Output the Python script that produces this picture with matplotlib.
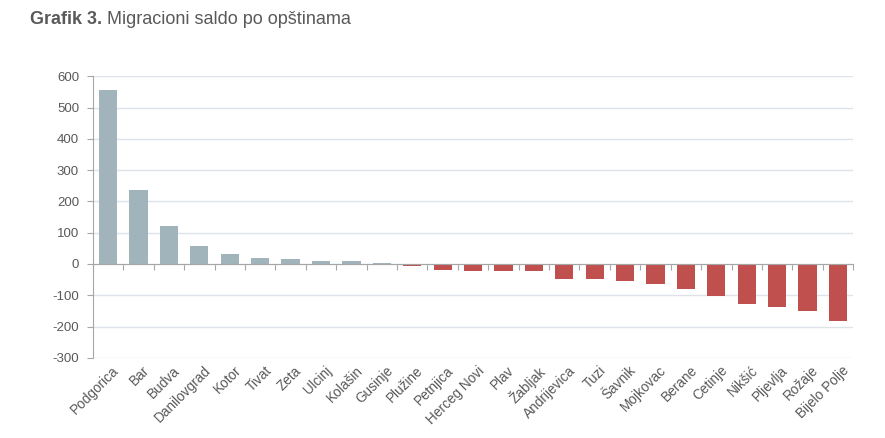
import matplotlib.pyplot as plt
import matplotlib.transforms as mtransforms
import numpy as np

plt.rcParams['font.family'] = ['Liberation Sans', 'DejaVu Sans']

# Data - migration balance by municipality
opstine = ['Podgorica', 'Bar', 'Budva', 'Danilovgrad', 'Kotor', 'Tivat', 'Zeta',
           'Ulcinj', 'Kolašin', 'Gusinje', 'Plužine', 'Petnjica', 'Herceg Novi',
           'Plav', 'Žabljak', 'Andrijevica', 'Tuzi', 'Šavnik', 'Mojkovac',
           'Berane', 'Cetinje', 'Nikšić', 'Pljevlja', 'Rožaje', 'Bijelo Polje']
saldo = [555, 237, 122, 58, 33, 20, 17, 10, 10, 4, -7, -18, -21, -21, -23,
         -48, -49, -53, -65, -80, -102, -127, -139, -150, -181]
y_ticks = [-300, -200, -100, 0, 100, 200, 300, 400, 500, 600]

pos_color = '#A1B4BB'
neg_color = '#C0504D'
text_color = '#595959'

fig = plt.figure(figsize=(8.85, 4.38), dpi=100)
ax = fig.add_axes([0.105, 0.183, 0.859, 0.643])

x = np.arange(len(opstine))
colors = [pos_color if v >= 0 else neg_color for v in saldo]
ax.bar(x, saldo, width=0.6, color=colors, zorder=3)

ax.set_ylim(-300, 600)
ax.set_xlim(-0.5, len(opstine) - 0.5)
ax.set_yticks(y_ticks)
ax.set_yticklabels([str(t) for t in y_ticks], fontsize=9.5, color=text_color)
ax.tick_params(axis='y', length=4, color='#A6A6A6', pad=6)
ax.yaxis.grid(True, color='#DEE3EA', linewidth=1, zorder=0)

for s in ['top', 'right']:
    ax.spines[s].set_visible(False)
ax.spines['left'].set_color('#A6A6A6')
ax.spines['bottom'].set_position(('data', 0))
ax.spines['bottom'].set_color('#A6A6A6')
ax.spines['bottom'].set_zorder(4)

# ticks between categories on the zero line
ax.set_xticks(np.arange(len(opstine) + 1) - 0.5)
ax.set_xticklabels([])
ax.tick_params(axis='x', length=4, color='#A6A6A6')

# category labels at the bottom
sec = ax.secondary_xaxis('bottom')
sec.set_xticks(x)
sec.set_xticklabels(opstine, rotation=45, ha='right', rotation_mode='anchor',
                    fontsize=9.8, color=text_color)
sec.tick_params(length=0, pad=4)
sec.spines['bottom'].set_visible(False)
shift = mtransforms.ScaledTranslation(4 / 100, 0, fig.dpi_scale_trans)
for lbl in sec.get_xticklabels():
    lbl.set_transform(lbl.get_transform() + shift)

# title: bold part + normal part
t1 = fig.text(0.034, 0.955, 'Grafik 3.', fontsize=13, fontweight='bold',
              color=text_color, va='center')
fig.canvas.draw()
bb = t1.get_window_extent().transformed(fig.transFigure.inverted())
fig.text(bb.x1 + 0.005, 0.955, 'Migracioni saldo po opštinama', fontsize=13,
         color=text_color, va='center')

fig.savefig('out.png', dpi=100)
